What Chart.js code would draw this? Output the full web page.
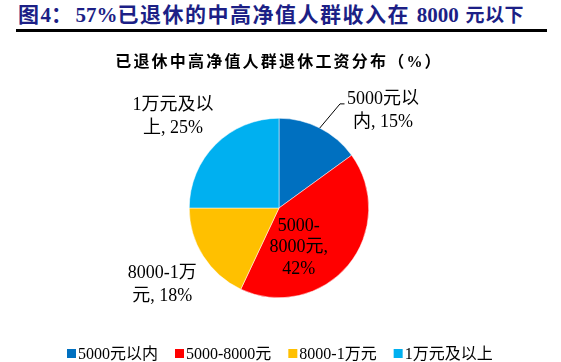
<!DOCTYPE html>
<html><head><meta charset="utf-8">
<script src="https://cdn.jsdelivr.net/npm/chart.js@4/dist/chart.umd.min.js"></script>
<style>
html,body{margin:0;padding:0;background:#fff;width:561px;height:362px;overflow:hidden;}
#hdr{position:absolute;left:18px;top:1px;font:bold 21px "Liberation Serif","Noto Sans CJK SC",serif;color:#1c1f86;white-space:nowrap;letter-spacing:1.5px;line-height:28px;}
#hdr .n{font-size:21px;letter-spacing:0;}
#hdr .s{font-size:19px;letter-spacing:0.5px;}
#rule{position:absolute;left:16px;top:29px;width:531px;height:3px;background:#000;}
#wrap{position:absolute;left:0;top:0;width:561px;height:362px;}
</style></head><body>
<div id="hdr">图<span class="n">4</span>：<span class="n" style="margin-left:2px">57%</span>已退休的中高净值人群收入在 <span class="n">8000</span> <span class="s">元以下</span></div>
<div id="rule"></div>
<div id="wrap"><canvas id="c" width="561" height="362"></canvas></div>
<script>
const chartTitle = "已退休中高净值人群退休工资分布（%）";
const categories = ["5000元以内", "5000-8000元", "8000-1万元", "1万元及以上"];
const values = [15, 42, 18, 25];
const sliceLabels = [["5000元以", "内, 15%"], ["5000-", "8000元,", "42%"], ["8000-1万", "元, 18%"], ["1万元及以", "上, 25%"]];
const colors = ["#0070C0", "#FF0000", "#FFC000", "#00B0F0"];
// label anchor offsets relative to pie centre, in radius units
const labelOffsets = [[1.16, -1.08], [0.22, 0.44], [-1.30, 0.86], [-1.18, -1.02]];
const FONT = '"Liberation Serif","Noto Sans CJK SC",serif';

const overlay = {
  id: 'overlay',
  afterDraw(chart) {
    const ctx = chart.ctx;
    const arc0 = chart.getDatasetMeta(0).data[0];
    const cx = arc0.x, cy = arc0.y, r = arc0.outerRadius;
    ctx.save();
    // chart title
    ctx.fillStyle = '#000';
    ctx.font = 'bold 16px ' + FONT;
    ctx.letterSpacing = '2.2px';
    ctx.textAlign = 'center';
    ctx.textBaseline = 'middle';
    ctx.fillText(chartTitle, 279, 63);
    ctx.letterSpacing = '0px';
    // slice labels
    ctx.font = '18px ' + FONT;
    sliceLabels.forEach((lines, i) => {
      const lh = lines.length > 2 ? 21.5 : 23;
      const lx = cx + labelOffsets[i][0] * r;
      const ly = cy + labelOffsets[i][1] * r;
      lines.forEach((t, k) => {
        ctx.fillText(t, lx, ly + (k - (lines.length - 1) / 2) * lh);
      });
    });
    // leader line for first slice
    const mid = (arc0.startAngle + arc0.endAngle) / 2;
    const sx = cx + Math.cos(mid) * r, sy = cy + Math.sin(mid) * r;
    ctx.strokeStyle = '#000';
    ctx.lineWidth = 1;
    ctx.beginPath();
    ctx.moveTo(sx, sy);
    ctx.lineTo(cx + 0.68 * r, cy - 1.16 * r);
    ctx.lineTo(cx + 0.73 * r, cy - 1.16 * r);
    ctx.stroke();
    // legend
    ctx.font = '16px ' + FONT;
    ctx.textAlign = 'left';
    let x = 67;
    const y = 354;
    categories.forEach((c, i) => {
      ctx.fillStyle = colors[i];
      ctx.fillRect(x, y - 5, 9, 9);
      ctx.fillStyle = '#000';
      ctx.fillText(c, x + 11, y + 1);
      x += 11 + ctx.measureText(c).width + 17;
    });
    ctx.restore();
  }
};

new Chart(document.getElementById('c'), {
  type: 'pie',
  data: {
    labels: categories,
    datasets: [{ data: values, backgroundColor: colors, borderColor: '#ffffff', borderWidth: 0.5 }]
  },
  options: {
    responsive: false,
    animation: false,
    layout: { padding: { left: 189, right: 192, top: 118, bottom: 64 } },
    plugins: { legend: { display: false }, title: { display: false }, tooltip: { enabled: false } }
  },
  plugins: [overlay]
});
</script>
</body></html>
